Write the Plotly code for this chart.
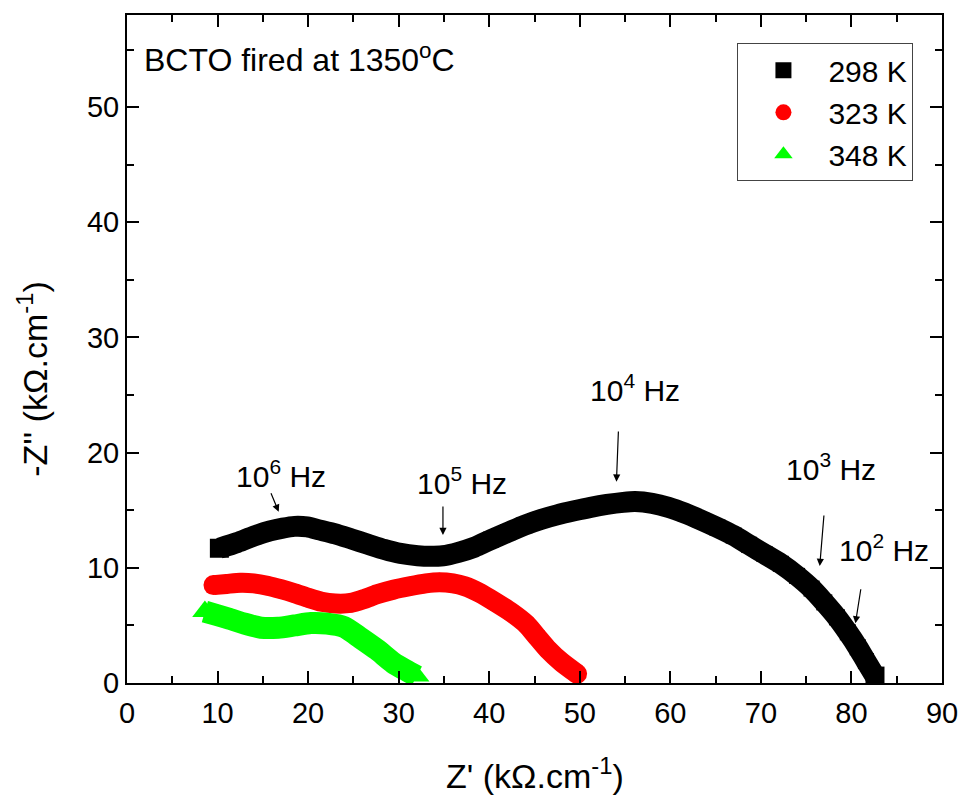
import plotly.graph_objects as go

# ---------------- data ----------------
z_re_298 = [10.2, 12.2, 14.0, 15.8, 17.2, 18.5, 19.9, 21.2, 23.0, 24.8, 26.6, 28.4,
            30.2, 32.1, 33.5, 34.9, 36.6, 38.4, 40.2, 42.1, 43.9, 45.7, 47.5, 49.4,
            51.2, 53.0, 54.8, 56.1, 58.0, 59.8, 61.6, 63.4, 65.2, 67.0, 68.7, 70.4,
            72.2, 74.0, 75.6, 77.0, 78.4, 79.6, 80.7, 81.6, 82.6]
z_im_298 = [11.7, 12.2, 12.75, 13.2, 13.45, 13.6, 13.55, 13.3, 12.95, 12.5, 12.05, 11.6,
            11.25, 11.05, 11.0, 11.05, 11.35, 11.8, 12.45, 13.1, 13.7, 14.2, 14.6, 14.95,
            15.25, 15.5, 15.68, 15.75, 15.6, 15.25, 14.75, 14.15, 13.5, 12.8, 12.0, 11.2,
            10.35, 9.3, 8.2, 7.0, 5.7, 4.4, 3.1, 1.9, 0.6]

z_re_323 = [9.55, 11.0, 12.5, 14.0, 15.5, 17.0, 18.5, 20.0, 21.5, 23.0, 24.7, 26.2,
            27.6, 29.4, 31.2, 33.0, 34.5, 36.0, 37.3, 39.0, 40.6, 42.4, 44.1, 45.3,
            46.5, 48.0, 49.7]
z_im_323 = [8.5, 8.6, 8.7, 8.65, 8.45, 8.15, 7.8, 7.4, 7.05, 6.9, 6.95, 7.3,
            7.7, 8.1, 8.4, 8.65, 8.75, 8.65, 8.4, 7.8, 7.05, 6.15, 5.1, 4.0,
            2.9, 1.8, 0.8]

z_re_348 = [8.6, 9.9, 11.2, 13.0, 14.8, 16.7, 18.5, 20.3, 22.1, 24.0, 25.8, 27.6,
            29.4, 30.7, 32.0]
z_im_348 = [6.2, 5.9, 5.6, 5.15, 4.8, 4.8, 5.0, 5.2, 5.15, 4.85, 3.9, 2.9,
            1.75, 1.15, 0.6]

series_names = ["298 K", "323 K", "348 K"]
x_tick_vals = [0, 10, 20, 30, 40, 50, 60, 70, 80, 90]
y_tick_vals = [0, 10, 20, 30, 40, 50]

freq_labels = ["10<sup>6</sup> Hz", "10<sup>5</sup> Hz", "10<sup>4</sup> Hz",
               "10<sup>3</sup> Hz", "10<sup>2</sup> Hz"]

# ---------------- figure ----------------
FONT = "Liberation Sans, Arial, sans-serif"

fig = go.Figure()

# name, x, y, colour, symbol, end-marker size, inner-marker size, band width
series = [
    (series_names[0], z_re_298, z_im_298, "#000000", "square", 19, 16, 21),
    (series_names[1], z_re_323, z_im_323, "#ff0000", "circle", 20, 19, 20),
    (series_names[2], z_re_348, z_im_348, "#00ff00", "triangle-up", 22, 17, 22),
]
for name, xs, ys, color, sym, end_size, inner_size, lw in series:
    sizes = [end_size] + [inner_size] * (len(xs) - 2) + [end_size]
    fig.add_trace(go.Scatter(
        x=xs, y=ys, mode="lines", showlegend=False,
        line=dict(color=color, width=lw, shape="spline", smoothing=0.6),
        hoverinfo="skip"))
    fig.add_trace(go.Scatter(
        x=xs, y=ys, mode="markers", name=name, showlegend=False,
        marker=dict(symbol=sym, size=sizes, color=color, opacity=1,
                    line=dict(width=0))))

# legend entries
for name, xs, ys, color, sym, end_size, inner_size, lw in series:
    fig.add_trace(go.Scatter(
        x=[None], y=[None], mode="markers", name=name, showlegend=True,
        marker=dict(symbol=sym, size=end_size, color=color, opacity=1,
                    line=dict(width=0))))

axis_common = dict(
    showline=True, linewidth=2, linecolor="black", mirror="allticks",
    ticks="inside", ticklen=12, tickwidth=2, tickcolor="black",
    showgrid=False, zeroline=False,
    tickfont=dict(family=FONT, size=29, color="black"),
    minor=dict(ticks="inside", ticklen=7, tickwidth=2, tickcolor="black", dtick=5),
)

fig.update_xaxes(range=[0, 90], tickvals=x_tick_vals, ticklabelstandoff=3, **axis_common)
fig.update_yaxes(range=[0, 58], tickvals=y_tick_vals, **axis_common)

annotations = []
# frequency labels
text_pos = [
    (11.83, 16.30), (31.78, 15.72), (50.88, 23.76), (72.6, 16.96), (78.35, 9.92)
]
for lbl, (tx, ty) in zip(freq_labels, text_pos):
    annotations.append(dict(x=tx, y=ty, xref="x", yref="y", text=lbl,
                            showarrow=False, xanchor="left", yanchor="bottom",
                            font=dict(family=FONT, size=30, color="black")))
# arrows (head position in data units, tail offset in px)
arrows = [
    (16.75, 14.87, -8.3, -20),
    (34.89, 12.85, 0, -30),
    (54.05, 17.48, 2, -51.7),
    (76.50, 10.16, 4.3, -52),
    (80.44, 5.18, 5.6, -35.6),
]
for hx, hy, ax, ay in arrows:
    annotations.append(dict(x=hx, y=hy, xref="x", yref="y", text="",
                            showarrow=True, ax=ax, ay=ay, arrowhead=2,
                            arrowsize=1.2, arrowwidth=1.2, arrowcolor="black",
                            standoff=0, startstandoff=0))
# header text
annotations.append(dict(x=1.64, y=52.38, xref="x", yref="y",
                        text="BCTO fired at 1350<sup>o</sup>C", showarrow=False,
                        xanchor="left", yanchor="bottom",
                        font=dict(family=FONT, size=32, color="black")))
# axis titles
annotations.append(dict(x=0.5, y=(683 - 797) / 668, xref="paper", yref="paper",
                        text="Z' (kΩ.cm<sup>-1</sup>)", showarrow=False,
                        xanchor="center", yanchor="bottom",
                        font=dict(family=FONT, size=34, color="black")))
annotations.append(dict(x=(31 - 127) / 822, y=(683 - 379) / 668, xref="paper", yref="paper",
                        text="-Z'' (kΩ.cm<sup>-1</sup>)", showarrow=False, textangle=-90,
                        xanchor="center", yanchor="middle",
                        font=dict(family=FONT, size=34, color="black")))

fig.update_layout(
    width=970, height=798,
    margin=dict(l=127, r=21, t=15, b=115),
    paper_bgcolor="white", plot_bgcolor="white",
    font=dict(family=FONT, size=29, color="black"),
    annotations=annotations,
    showlegend=True,
    legend=dict(x=0.749, y=0.9576, xanchor="left", yanchor="top",
                bgcolor="white", bordercolor="#444444", borderwidth=1,
                font=dict(family=FONT, size=30, color="black"),
                itemwidth=80, itemsizing="trace"),
)

fig.write_html("out.html")
